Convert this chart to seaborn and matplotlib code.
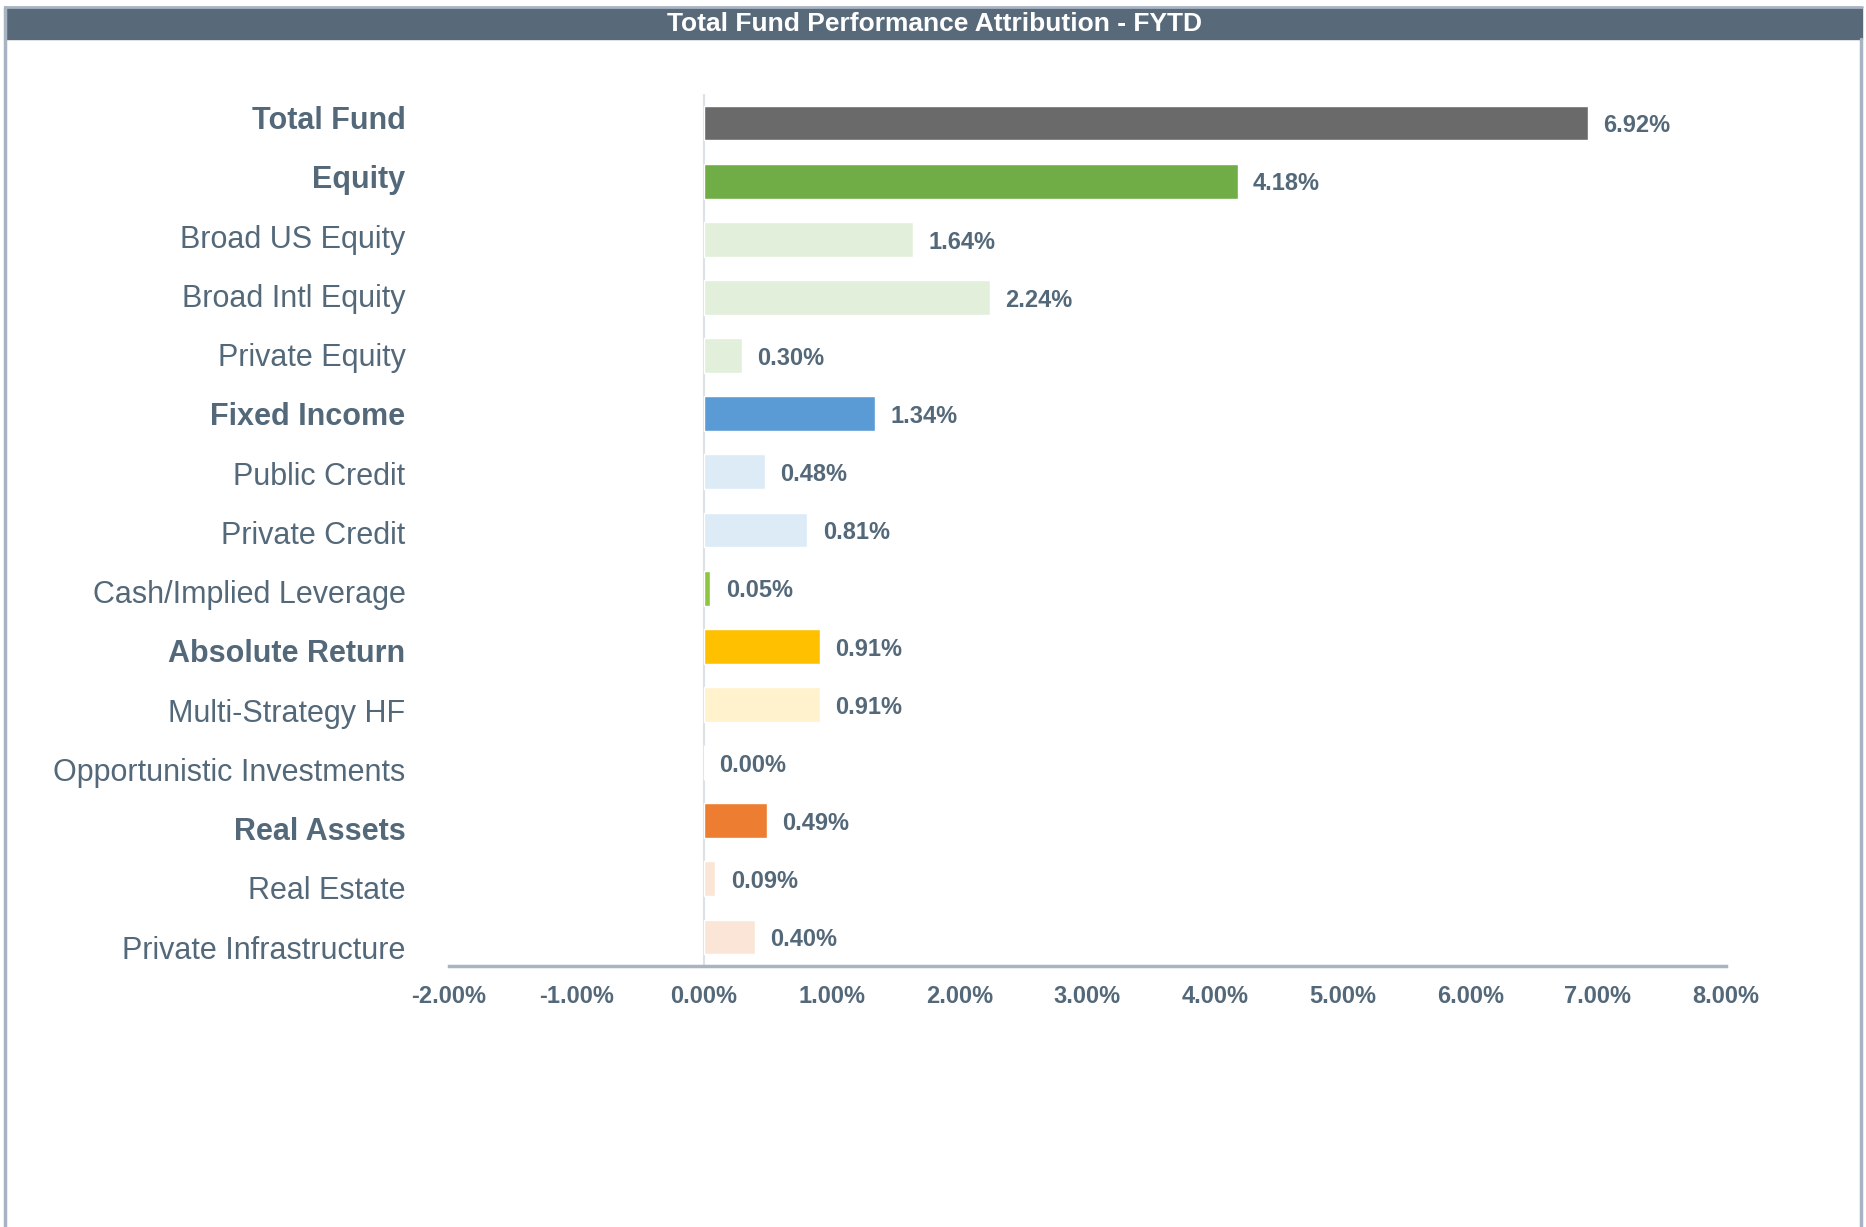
import matplotlib
matplotlib.use("Agg")
import matplotlib.pyplot as plt
import matplotlib.ticker as mticker
from matplotlib.patches import Rectangle
from matplotlib.lines import Line2D
from matplotlib.transforms import ScaledTranslation
import pandas as pd
import seaborn as sns

categories = ["Total Fund", "Equity", "Broad US Equity", "Broad Intl Equity",
              "Private Equity", "Fixed Income", "Public Credit", "Private Credit",
              "Cash/Implied Leverage", "Absolute Return", "Multi-Strategy HF",
              "Opportunistic Investments", "Real Assets", "Real Estate",
              "Private Infrastructure"]
values = [6.92, 4.18, 1.64, 2.24, 0.30, 1.34, 0.48, 0.81, 0.05, 0.91, 0.91,
          0.00, 0.49, 0.09, 0.40]
headline = ["Total Fund", "Equity", "Fixed Income", "Absolute Return", "Real Assets"]
colors = ["#6A6A6A", "#70AD47", "#E2EFDA", "#E2EFDA", "#E2EFDA", "#5B9BD5",
          "#DDEBF7", "#DDEBF7", "#8DC63F", "#FFC000", "#FFF2CC", "#FFF2CC",
          "#ED7D31", "#FBE5D6", "#FBE5D6"]
xticks = [-2, -1, 0, 1, 2, 3, 4, 5, 6, 7, 8]

TEXT = "#536879"

sns.set_style("white")
plt.rcParams['font.family'] = ['Liberation Sans', 'DejaVu Sans']

df = pd.DataFrame({"category": categories, "value": values})

fig = plt.figure(figsize=(18.66, 12.27), dpi=100)
ax = fig.add_axes([0.2404, 0.2127, 0.6844, 0.7107])

sns.barplot(data=df, x="value", y="category", hue="category", palette=colors,
            orient="h", width=0.6, legend=False, saturation=1, ax=ax)

ax.set_xlim(-2, 8)
ax.set_ylim(14.5, -0.5)
ax.set_xticks(xticks)
ax.xaxis.set_major_formatter(mticker.FuncFormatter(lambda v, p: "%.2f%%" % v))
ax.set_xlabel("")
ax.set_ylabel("")
for s in ["top", "right", "left"]:
    ax.spines[s].set_visible(False)
ax.spines["bottom"].set_color("#A9B4BF")
ax.spines["bottom"].set_linewidth(2.5)
ax.axvline(0, color="#DCE1E6", linewidth=1.5, zorder=0)

ax.tick_params(axis="x", length=0, pad=14, labelsize=17, labelcolor=TEXT)
ax.tick_params(axis="y", length=0, pad=31, labelsize=22, labelcolor=TEXT)
for t in ax.get_xticklabels():
    t.set_fontweight("bold")
# category labels in the original sit a little off the bar centres
for i, t in enumerate(ax.get_yticklabels()):
    if t.get_text() in headline:
        t.set_fontweight("bold")
    dy = (5.4 - 1.12 * i) / 100.0
    t.set_transform(t.get_transform() + ScaledTranslation(0, dy, fig.dpi_scale_trans))

for cont in ax.containers:
    labs = ax.bar_label(cont, labels=["%.2f%%" % v for v in cont.datavalues],
                        padding=11, fontsize=17, fontweight="bold", color=TEXT)
    for lb in labs:
        lb.xyann = (11, -2)

# title bar and frame
H = 1227.0
W = 1866.0
fig.patches.append(Rectangle((6 / W, 1 - 39 / H), 1856 / W, 31 / H,
                             transform=fig.transFigure, color="#586A7A", zorder=0))
fig.text(935 / W, 1 - 24 / H, "Total Fund Performance Attribution - FYTD",
         ha="center", va="center", color="white", fontsize=19, fontweight="bold")
fig.lines.append(Line2D([5 / W, 5 / W], [0, 1 - 7 / H], transform=fig.transFigure,
                        color="#A8B4C2", linewidth=2.5))
fig.lines.append(Line2D([5 / W, 1862 / W], [1 - 7 / H, 1 - 7 / H],
                        transform=fig.transFigure, color="#A8B4C2", linewidth=2))
fig.lines.append(Line2D([1861 / W, 1861 / W], [0, 1 - 39 / H], transform=fig.transFigure,
                        color="#A8B4C2", linewidth=2.5))

fig.savefig("out.png", dpi=100)
